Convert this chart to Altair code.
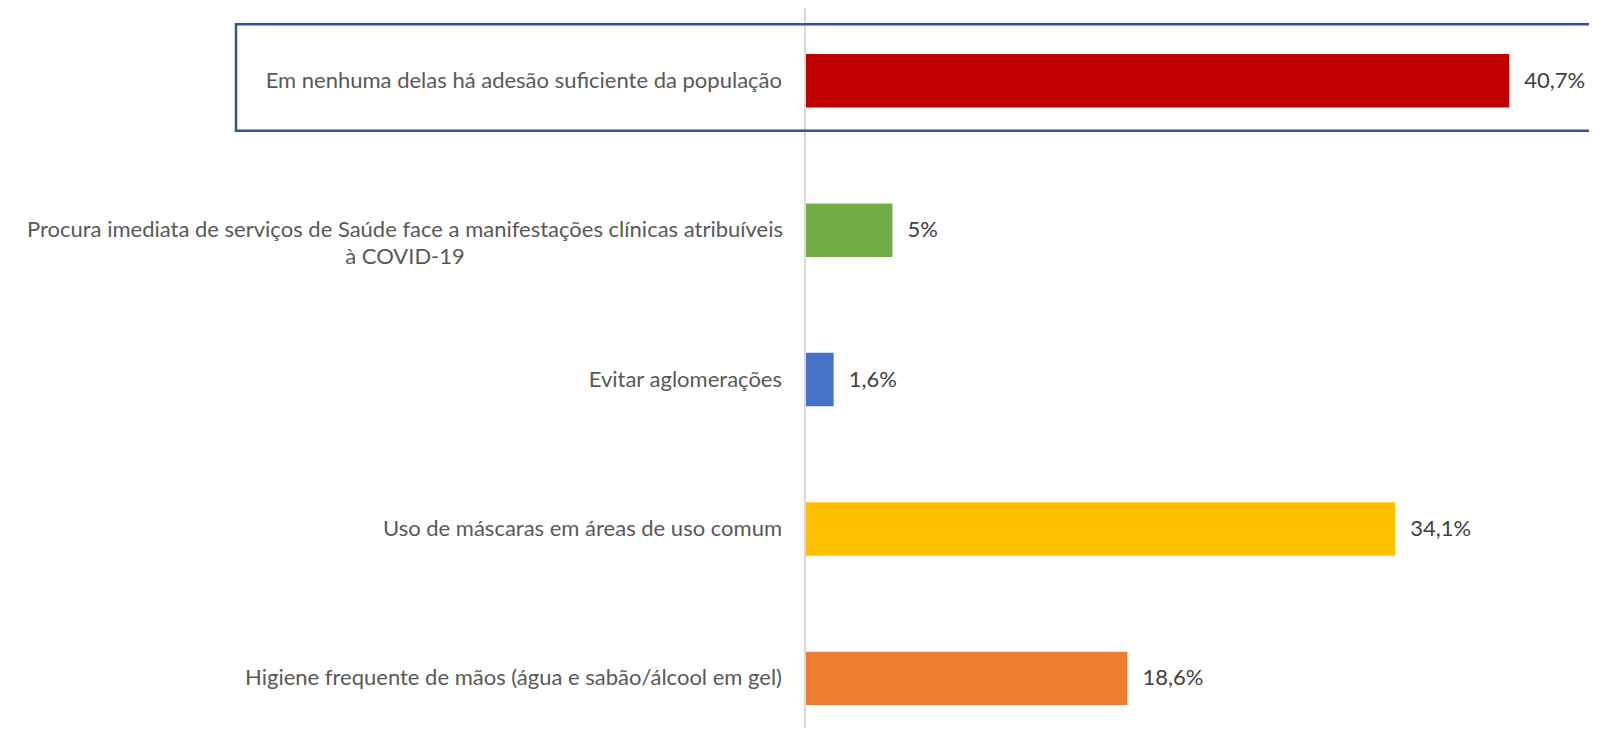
import altair as alt
import pandas as pd

categories = [
    "Em nenhuma delas há adesão suficiente da população",
    "Procura imediata de serviços de Saúde face a manifestações clínicas atribuíveis",
    "Evitar aglomerações",
    "Uso de máscaras em áreas de uso comum",
    "Higiene frequente de mãos (água e sabão/álcool em gel)",
]
display_labels = [
    "Em nenhuma delas há adesão suficiente da população",
    "Procura imediata de serviços de Saúde face a manifestações clínicas atribuíveis\nà COVID-19",
    "Evitar aglomerações",
    "Uso de máscaras em áreas de uso comum",
    "Higiene frequente de mãos (água e sabão/álcool em gel)",
]
values = [40.7, 5.0, 1.6, 34.1, 18.6]
value_labels = ["40,7%", "5%", "1,6%", "34,1%", "18,6%"]
colors = ["#C00000", "#70AD47", "#4472C4", "#FFC000", "#ED7D31"]

W, H = 775, 720
FONT = "Lato"
FS = 22

df = pd.DataFrame({
    "cat": categories,
    "label": display_labels,
    "value": values,
    "vlabel": value_labels,
    "color": colors,
})
df_single = df[~df["label"].str.contains("\n")]
df_multi = df[df["label"].str.contains("\n")]

yscale = alt.Scale(domain=categories, paddingInner=0.642, paddingOuter=0.2307,
                   align=0.668, round=False)
y = alt.Y("cat:N", axis=None, scale=yscale)
x = alt.X("value:Q", axis=None, scale=alt.Scale(domain=[0, 44.85]))

one = pd.DataFrame({"k": [0]})

axis_line = alt.Chart(one).mark_rule(color="#D9D9D9", strokeWidth=2).encode(
    x=alt.value(-1), y=alt.value(-2), y2=alt.value(H + 30)
)

box = alt.Chart(one).mark_rect(
    fillOpacity=0, stroke="#2F5597", strokeWidth=2.5
).encode(
    x=alt.value(-570), x2=alt.value(W + 60),
    y=alt.value(16.3), y2=alt.value(122.7)
)

bars = alt.Chart(df).mark_bar().encode(
    x=x, y=y, color=alt.Color("color:N", scale=None)
)

vals = alt.Chart(df).mark_text(
    align="left", baseline="middle", dx=15, font=FONT, fontSize=FS, color="#404040"
).encode(x=x, y=y, text="vlabel:N")

lab_single = alt.Chart(df_single).mark_text(
    align="right", baseline="middle", font=FONT, fontSize=FS, color="#595959"
).encode(x=alt.value(-24), y=y, text="label:N")

lab_multi = alt.Chart(df_multi).mark_text(
    align="center", baseline="middle", font=FONT, fontSize=FS, color="#595959",
    lineBreak="\n", lineHeight=27
).encode(x=alt.value(-401), y=y, text="label:N")

chart = alt.layer(axis_line, box, bars, vals, lab_single, lab_multi).properties(
    width=W, height=H,
    autosize=alt.AutoSizeParams(type="none"),
    padding={"left": 798, "top": 0, "right": 8, "bottom": 0},
).configure_view(stroke=None)

chart.save("out.html", embed_options={"renderer": "svg", "actions": False})
